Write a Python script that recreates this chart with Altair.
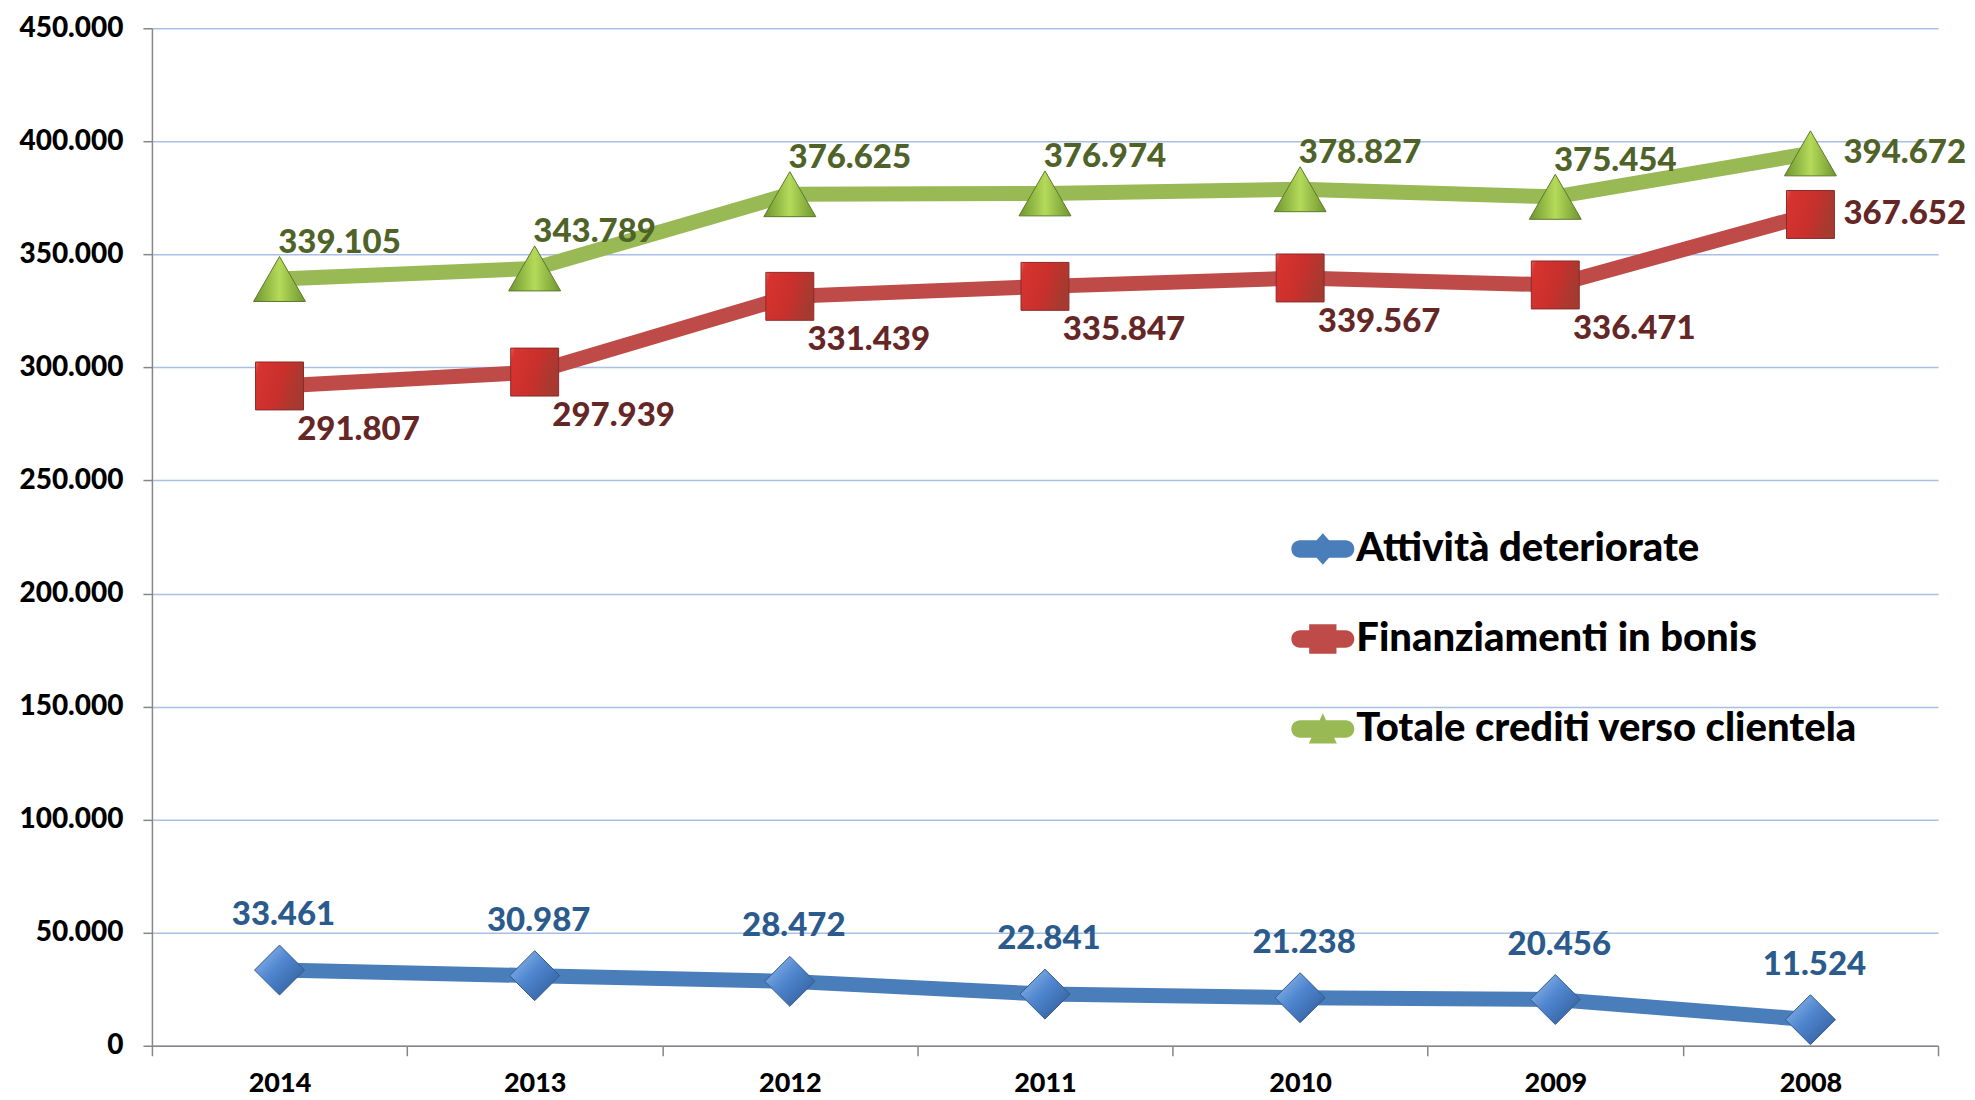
import altair as alt
import pandas as pd

years = ["2014", "2013", "2012", "2011", "2010", "2009", "2008"]
attivita = [33461, 30987, 28472, 22841, 21238, 20456, 11524]
bonis = [291807, 297939, 331439, 335847, 339567, 336471, 367652]
totale = [339105, 343789, 376625, 376974, 378827, 375454, 394672]
series_names = ["Attività deteriorate", "Finanziamenti in bonis", "Totale crediti verso clientela"]
y_ticks = [0, 50000, 100000, 150000, 200000, 250000, 300000, 350000, 400000, 450000]

rows = []
for name, vals in zip(series_names, [attivita, bonis, totale]):
    for yr, v in zip(years, vals):
        rows.append({"anno": yr, "serie": name, "valore": v,
                     "etichetta": f"{v:,}".replace(",", ".")})
df = pd.DataFrame(rows)

FONT = "Lato"
W = 900
line_colors = ["#4A7EBB", "#BE4B48", "#98B954"]
label_colors = ["#2B5A8C", "#652626", "#4F6228"]

x = alt.X("anno:N", sort=years,
          scale=alt.Scale(type="band", paddingInner=0, paddingOuter=0),
          axis=alt.Axis(title=None, labelAngle=0, tickBand="extent", grid=False,
                        domainColor="#868686", domainWidth=1.5, tickColor="#868686",
                        tickWidth=1.5, tickSize=10, labelFont=FONT, labelFontWeight=W,
                        labelFontSize=27, labelColor="black", labelPadding=15))
y = alt.Y("valore:Q", scale=alt.Scale(domain=[0, 450000], nice=False, zero=True),
          axis=alt.Axis(title=None, values=y_ticks,
                        labelExpr="replace(format(datum.value, ','), ',', '.')",
                        grid=True, gridColor="#A9C0E4", gridWidth=1.5,
                        domainColor="#868686", domainWidth=1.5, tickColor="#868686",
                        tickWidth=1.5, tickSize=9, labelFont=FONT, labelFontWeight=W,
                        labelFontSize=28, labelColor="black", labelPadding=20))

base = alt.Chart(df)

def grad(stops, x1=0, y1=0, x2=1, y2=1):
    return alt.Gradient(gradient="linear", x1=x1, y1=y1, x2=x2, y2=y2,
                        stops=[alt.GradientStop(offset=o, color=c) for o, c in stops])

marker_specs = [
    dict(shape="diamond", size=2500,
         fill=grad([(0, "#9BC0EE"), (0.45, "#4F86CF"), (1, "#2C5692")]),
         stroke="#34598A"),
    dict(shape="square", size=2300,
         fill=grad([(0, "#E8605C"), (0.1, "#D8332F"), (0.6, "#C8302C"), (1, "#A63A30")], 0, 0, 1, 0.3),
         stroke="#8B2A28"),
    dict(shape="triangle-up", size=2700,
         fill=grad([(0, "#6E9530"), (0.5, "#B5DA5A"), (1, "#6E9530")], 0, 0.5, 1, 0.5),
         stroke="#5A7A28"),
]

layers = []
for name, col in zip(series_names, line_colors):
    layers.append(base.transform_filter(alt.datum.serie == name)
                  .mark_line(color=col, strokeWidth=15).encode(x=x, y=y))
for name, spec in zip(series_names, marker_specs):
    layers.append(base.transform_filter(alt.datum.serie == name)
                  .mark_point(filled=True, opacity=1, strokeWidth=1, **spec)
                  .encode(x=x, y=y))

txt = dict(font=FONT, fontWeight=W, fontSize=33, baseline="middle")
last = years[-1]
layers.append(base.transform_filter(alt.datum.serie == series_names[0])
              .mark_text(align="center", dx=4, dy=-55, color=label_colors[0], **txt)
              .encode(x=x, y=y, text="etichetta:N"))
layers.append(base.transform_filter((alt.datum.serie == series_names[1]) & (alt.datum.anno != last))
              .mark_text(align="center", dx=79, dy=44, color=label_colors[1], **txt)
              .encode(x=x, y=y, text="etichetta:N"))
layers.append(base.transform_filter((alt.datum.serie == series_names[1]) & (alt.datum.anno == last))
              .mark_text(align="left", dx=33, dy=0, color=label_colors[1], **txt)
              .encode(x=x, y=y, text="etichetta:N"))
layers.append(base.transform_filter((alt.datum.serie == series_names[2]) & (alt.datum.anno != last))
              .mark_text(align="center", dx=60, dy=-36, color=label_colors[2], **txt)
              .encode(x=x, y=y, text="etichetta:N"))
layers.append(base.transform_filter((alt.datum.serie == series_names[2]) & (alt.datum.anno == last))
              .mark_text(align="left", dx=33, dy=0, color=label_colors[2], **txt)
              .encode(x=x, y=y, text="etichetta:N"))

bar = ("M-0.55,-0.25 L0.75,-0.25 A0.25,0.25 0 0 1 0.75,0.25 "
       "L-0.55,0.25 A0.25,0.25 0 0 1 -0.55,-0.25 Z ")
legend_paths = [
    bar + "M0.1,-0.45 L0.5,0 L0.1,0.45 L-0.3,0 Z",
    bar + "M-0.29,-0.42 L0.49,-0.42 L0.49,0.42 L-0.29,0.42 Z",
    bar + "M0.1,-0.45 L0.5,0.42 L-0.3,0.42 Z",
]
leg = alt.Legend(title=None, orient="none", legendX=1133, legendY=486,
                 labelFont=FONT, labelFontWeight=W, labelFontSize=40,
                 labelColor="black", labelLimit=900, labelOffset=2,
                 symbolSize=4900, symbolStrokeWidth=0, symbolOpacity=1,
                 rowPadding=35, padding=0)
layers.append(base.transform_filter("false")
              .mark_point(filled=True, opacity=1)
              .encode(x=x, y=y,
                      color=alt.Color("serie:N", scale=alt.Scale(domain=series_names, range=line_colors), legend=leg),
                      shape=alt.Shape("serie:N", scale=alt.Scale(domain=series_names, range=legend_paths), legend=leg)))

chart = (alt.layer(*layers)
         .properties(width=1787, height=1018,
                     padding={"left": 10, "top": 6, "right": 0, "bottom": 0},
                     background="white")
         .configure_view(stroke=None))

chart.save("out.html", embed_options={"renderer": "svg", "actions": False})
